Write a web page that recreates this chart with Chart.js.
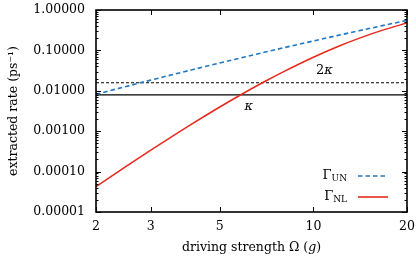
<!DOCTYPE html>
<html>
<head>
<meta charset="utf-8">
<script src="https://cdn.jsdelivr.net/npm/chart.js@4"></script>
<style>
  body { margin: 0; background: #fff; }
</style>
</head>
<body>
<canvas id="chart" width="416" height="263"></canvas>
<script>
// datos
const drivingOmega = [2, 2.5, 3, 4, 5, 6, 7, 8, 10, 12, 14, 17, 20];
const gammaUN = [0.00818, 0.01282, 0.01837, 0.03205, 0.04888, 0.06855, 0.09086, 0.1155, 0.1715, 0.2352, 0.3060, 0.4236, 0.5534];
const gammaNL = [0.0000423, 0.0001339, 0.0003381, 0.001393, 0.003975, 0.00896, 0.01723, 0.02947, 0.06782, 0.1251, 0.1989, 0.3314, 0.4742];
const kappa = 0.0079;
const xTicks = [2, 3, 5, 10, 20];
const yTicks = [0.00001, 0.0001, 0.001, 0.01, 0.1, 1];

const serif = "'DejaVu Serif', serif";
const blue = '#1f78c1';
const red = '#e8281c';

function puntos(ys) {
    return drivingOmega.map((x, i) => ({ x: x, y: ys[i] }));
}

// todas las marcas menores del eje log
const yAllTicks = [];
for (let e = -5; e < 0; e++) {
    for (let m = 1; m <= 9; m++) yAllTicks.push(m * Math.pow(10, e));
}
yAllTicks.push(1);

function esMayor(v) {
    return yTicks.some(t => Math.abs(v / t - 1) < 1e-6);
}

const marcasPlugin = {
    id: 'marcas',
    afterDatasetsDraw(chart) {
        const { ctx, chartArea: a, scales } = chart;
        ctx.save();
        ctx.strokeStyle = '#000';
        ctx.lineWidth = 1;
        // marcas del eje y, hacia adentro
        scales.y.ticks.forEach(t => {
            const py = Math.round(scales.y.getPixelForValue(t.value)) + 0.5;
            const len = esMayor(t.value) ? 5 : 2.5;
            ctx.beginPath();
            ctx.moveTo(a.left, py); ctx.lineTo(a.left + len, py);
            ctx.moveTo(a.right, py); ctx.lineTo(a.right - len, py);
            ctx.stroke();
        });
        // marcas del eje x
        xTicks.forEach(v => {
            const px = Math.round(scales.x.getPixelForValue(v)) + 0.5;
            ctx.beginPath();
            ctx.moveTo(px, a.bottom); ctx.lineTo(px, a.bottom - 5);
            ctx.moveTo(px, a.top); ctx.lineTo(px, a.top + 5);
            ctx.stroke();
        });
        // marco
        ctx.lineWidth = 1.6;
        ctx.strokeRect(a.left, a.top, a.right - a.left, a.bottom - a.top);

        ctx.fillStyle = '#000';
        ctx.textBaseline = 'middle';

        // titulo del eje x con g en cursiva
        const partes = [
            { t: 'driving strength Ω (', f: "12.5px " + serif },
            { t: 'g', f: "italic 12.5px " + serif },
            { t: ')', f: "12.5px " + serif }
        ];
        let total = 0;
        partes.forEach(p => { ctx.font = p.f; p.w = ctx.measureText(p.t).width; total += p.w; });
        let xt = (a.left + a.right) / 2 - total / 2;
        ctx.textAlign = 'left';
        partes.forEach(p => { ctx.font = p.f; ctx.fillText(p.t, xt, 247.5); xt += p.w; });

        // etiquetas kappa
        const yK = scales.y.getPixelForValue(kappa);
        const y2K = scales.y.getPixelForValue(2 * kappa);
        ctx.font = "italic 13px " + serif;
        ctx.textAlign = 'center';
        ctx.fillText('κ', scales.x.getPixelForValue(6.2), yK + 12);
        const x2K = scales.x.getPixelForValue(11);
        ctx.font = "13px " + serif;
        ctx.textAlign = 'right';
        ctx.fillText('2', x2K - 2, y2K - 12);
        ctx.font = "italic 13px " + serif;
        ctx.textAlign = 'left';
        ctx.fillText('κ', x2K - 2, y2K - 12);

        // leyenda
        const filas = [
            { sub: 'UN', color: blue, dash: [4.5, 3], y: a.bottom - 36 },
            { sub: 'NL', color: red, dash: [], y: a.bottom - 15 }
        ];
        filas.forEach(f => {
            const xEnd = a.right - 60;
            ctx.font = "9px " + serif;
            ctx.textAlign = 'right';
            ctx.fillStyle = '#000';
            const wSub = ctx.measureText(f.sub).width;
            ctx.fillText(f.sub, xEnd, f.y + 3);
            ctx.font = "13px " + serif;
            ctx.fillText('Γ', xEnd - wSub, f.y);
            ctx.strokeStyle = f.color;
            ctx.lineWidth = 1.6;
            ctx.setLineDash(f.dash);
            ctx.beginPath();
            ctx.moveTo(a.right - 49, f.y);
            ctx.lineTo(a.right - 19, f.y);
            ctx.stroke();
            ctx.setLineDash([]);
        });
        ctx.restore();
    }
};

const config = {
    type: 'line',
    data: {
        datasets: [
            {
                label: 'Γ_UN',
                data: puntos(gammaUN),
                borderColor: blue,
                borderWidth: 1.6,
                borderDash: [4.5, 3],
                pointRadius: 0,
                fill: false,
                cubicInterpolationMode: 'monotone'
            },
            {
                label: 'Γ_NL',
                data: puntos(gammaNL),
                borderColor: red,
                borderWidth: 1.5,
                pointRadius: 0,
                fill: false,
                cubicInterpolationMode: 'monotone'
            },
            {
                label: 'κ',
                data: [{ x: 2, y: kappa }, { x: 20, y: kappa }],
                borderColor: '#000',
                borderWidth: 1.3,
                pointRadius: 0,
                fill: false
            },
            {
                label: '2κ',
                data: [{ x: 2, y: 2 * kappa }, { x: 20, y: 2 * kappa }],
                borderColor: '#000',
                borderWidth: 1.1,
                borderDash: [3, 2],
                pointRadius: 0,
                fill: false
            }
        ]
    },
    options: {
        responsive: false,
        animation: false,
        devicePixelRatio: 1,
        layout: { padding: { top: 10, right: 9, left: 0, bottom: 0 } },
        plugins: {
            legend: { display: false },
            tooltip: { enabled: false }
        },
        scales: {
            x: {
                type: 'logarithmic',
                min: 2,
                max: 20,
                afterBuildTicks: s => { s.ticks = xTicks.map(v => ({ value: v })); },
                afterFit: s => { s.height = 51; s.paddingLeft = 0; s.paddingRight = 0; },
                grid: { display: false, drawTicks: false },
                border: { display: false },
                ticks: {
                    autoSkip: false,
                    maxRotation: 0,
                    padding: 7,
                    color: '#000',
                    font: { family: serif, size: 12.5 },
                    callback: v => String(v)
                }
            },
            y: {
                type: 'logarithmic',
                min: 0.00001,
                max: 1,
                afterBuildTicks: s => { s.ticks = yAllTicks.map(v => ({ value: v })); },
                afterFit: s => { s.width = 96; s.paddingTop = 0; s.paddingBottom = 0; },
                grid: { display: false, drawTicks: false },
                border: { display: false },
                ticks: {
                    autoSkip: false,
                    padding: 11,
                    color: '#000',
                    font: { family: serif, size: 12.5 },
                    callback: v => esMayor(v) ? Number(v).toFixed(5) : ''
                },
                title: {
                    display: true,
                    text: 'extracted rate (ps⁻¹)',
                    color: '#000',
                    font: { family: serif, size: 12.5 },
                    padding: { top: 6, bottom: 0 }
                }
            }
        }
    },
    plugins: [marcasPlugin]
};

new Chart(document.getElementById('chart'), config);
</script>
</body>
</html>
